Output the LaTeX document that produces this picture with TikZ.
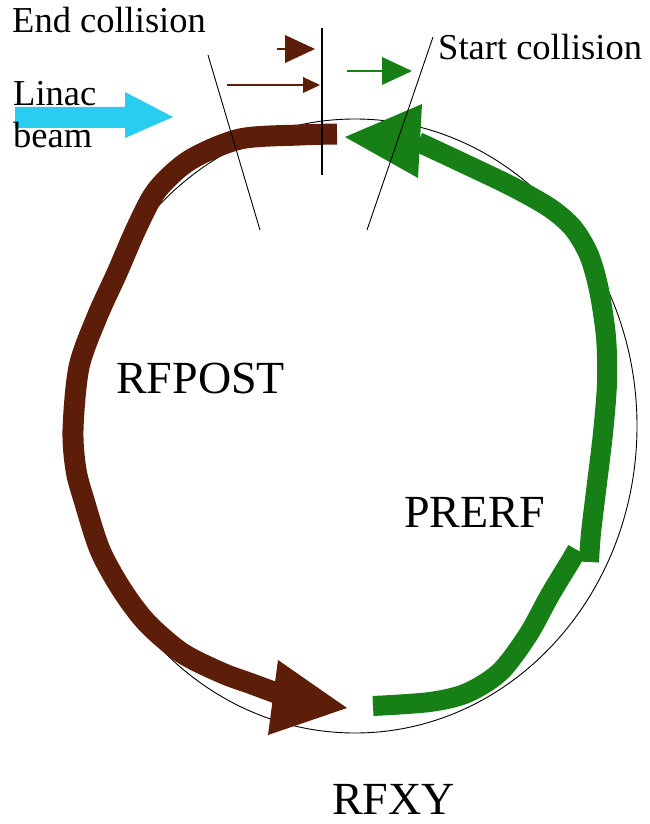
\documentclass[tikz,border=0pt]{standalone}
\usepackage{fontspec}
\setmainfont{Liberation Serif}
\usetikzlibrary{shapes.geometric}
\definecolor{rfbrown}{RGB}{92,30,8}
\definecolor{rfgreen}{RGB}{22,128,22}
\definecolor{linac}{RGB}{40,205,240}
\begin{document}
\begin{tikzpicture}[x=1pt,y=-1pt,
  small/.style={inner sep=0pt,anchor=base west,font=\fontsize{36.5}{40}\selectfont},
  big/.style={inner sep=0pt,anchor=base west,font=\fontsize{46}{52}\selectfont},
  thinline/.style={draw=black,line width=0.9pt},
  band/.style={line width=21pt,line cap=butt,line join=round}]
\useasboundingbox (0,0) rectangle (649,824);
\fill[white] (0,0) rectangle (649,824);
% ring
\node[draw,ellipse,line width=0.9pt,minimum width=564pt,minimum height=614pt,inner sep=0pt] (ring) at (355,426) {};
% Linac beam arrow
\fill[linac] (15,107) -- (125,107) -- (125,92) -- (173,117) -- (125,138) -- (125,128) -- (15,128) -- cycle;
% RFPOST brown band
\draw[rfbrown,band] plot[smooth,tension=0.5] coordinates {(337,134) (300,135) (240,139) (190,160) (157,190) (137,227) (117,273) (97,317) (79,367) (73,430) (76,470) (84,500) (100,550) (122,590) (147,623) (182,653) (222,673) (252,684) (279,694)};
\fill[rfbrown] (278,660) -- (347,708) -- (268,735) -- cycle;
% PRERF green bands
\draw[rfgreen,band,line width=20pt] plot[smooth,tension=0.5] coordinates {(373,706) (430,702) (467,693) (500,672) (528,635) (550,595) (570,562) (577,550)};
\draw[rfgreen,band,line width=20pt] plot[smooth,tension=0.5] coordinates {(589,562) (591,533) (597,483) (603,433) (607,383) (606,337) (599,290) (589,255) (573,228) (550,208) (513,187) (463,163) (418,142)};
\fill[rfgreen] (422,104) -- (345,137) -- (418,178) -- cycle;
% small arrows
\draw[rfbrown,line width=2pt] (277,49) -- (286,49);
\fill[rfbrown] (285,35) -- (315,49) -- (285,63) -- cycle;
\draw[rfbrown,line width=1.6pt] (227,85) -- (304,85);
\fill[rfbrown] (303,77) -- (320,85) -- (303,93) -- cycle;
\draw[rfgreen,line width=2pt] (347,71) -- (383,71);
\fill[rfgreen] (382,57) -- (412,71) -- (382,85) -- cycle;
% collision markers
\draw[thinline] (208,55) -- (260,230);
\draw[thinline,line width=1.3pt] (322,28) -- (322,175);
\draw[thinline] (433,37) -- (367,230);
% labels
\node[small] (endc) at (12,33) {End collision};
\node[small] (startc) at (438,60) {Start collision};
\node[small] (linactext) at (13,106) {Linac};
\node[small] (beamtext) at (13,147) {beam};
\node[big] (rfpost) at (116,393) {RFPOST};
\node[big] (prerf) at (404,527) {PRERF};
\node[big,text depth=0pt] (rfxy) at (332,814) {RFXY};
\end{tikzpicture}
\end{document}
